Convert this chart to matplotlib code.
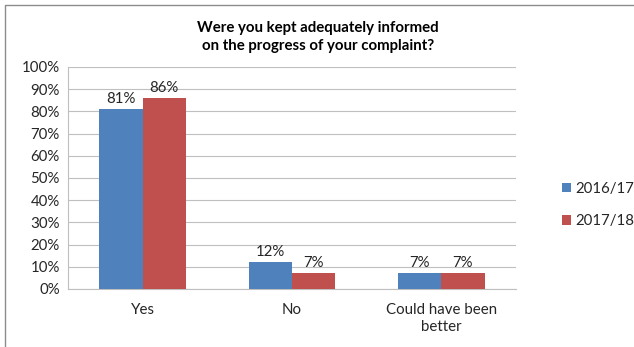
import matplotlib.pyplot as plt
import numpy as np
from matplotlib.patches import Rectangle
from matplotlib.ticker import PercentFormatter

plt.rcParams['font.family'] = ['Lato', 'DejaVu Sans']

categories = ['Yes', 'No', 'Could have been\nbetter']
series_names = ['2016/17', '2017/18']
vals_1617 = [81, 12, 7]
vals_1718 = [86, 7, 7]
colours = ['#4F81BD', '#C0504D']

fig = plt.figure(figsize=(6.34, 3.47), dpi=100)
W, H = 634, 347
ax = fig.add_axes([68 / W, 1 - 289 / H, 448 / W, 222 / H])

x = np.arange(len(categories))
w = 0.29
b1 = ax.bar(x - w / 2, vals_1617, w, color=colours[0], label=series_names[0], zorder=3)
b2 = ax.bar(x + w / 2, vals_1718, w, color=colours[1], label=series_names[1], zorder=3)

fs = 10.8
for bars in (b1, b2):
    for r in bars:
        ax.text(r.get_x() + r.get_width() / 2, r.get_height() + 1.5, '%d%%' % r.get_height(),
                ha='center', va='bottom', fontsize=fs, color='#262626')

ax.set_xlim(-0.5, 2.5)
ax.set_ylim(0, 100)
ax.set_yticks(np.arange(0, 101, 10))
ax.yaxis.set_major_formatter(PercentFormatter(decimals=0))
ax.set_xticks(x)
ax.set_xticklabels(categories, fontsize=fs, color='#262626', linespacing=1.3)
ax.tick_params(axis='y', labelsize=fs, colors='#262626', length=0, pad=6)
ax.tick_params(axis='x', length=0, pad=10)
ax.grid(axis='y', color='#BFBFBF', linewidth=0.8, zorder=0)
for s in ['top', 'right']:
    ax.spines[s].set_visible(False)
ax.spines['left'].set_color('#BFBFBF')
ax.spines['bottom'].set_color('#BFBFBF')

fig.text(318 / W, 1 - 37 / H, 'Were you kept adequately informed\non the progress of your complaint?',
         ha='center', va='center', fontsize=10.8, fontweight='bold', color='black', linespacing=1.4)

fig.legend(loc='center left', bbox_to_anchor=(548 / W, 1 - 205 / H), frameon=False,
           fontsize=fs, handlelength=0.6, handleheight=0.6, handletextpad=0.35,
           labelspacing=1.25, labelcolor='#262626')

fig.patches.append(Rectangle((5 / W, -0.1), 1.2, 1 - 5 / H + 0.1, transform=fig.transFigure,
                             fill=False, edgecolor='#8C8C8C', linewidth=1, figure=fig))

fig.savefig('out.png', dpi=100)
